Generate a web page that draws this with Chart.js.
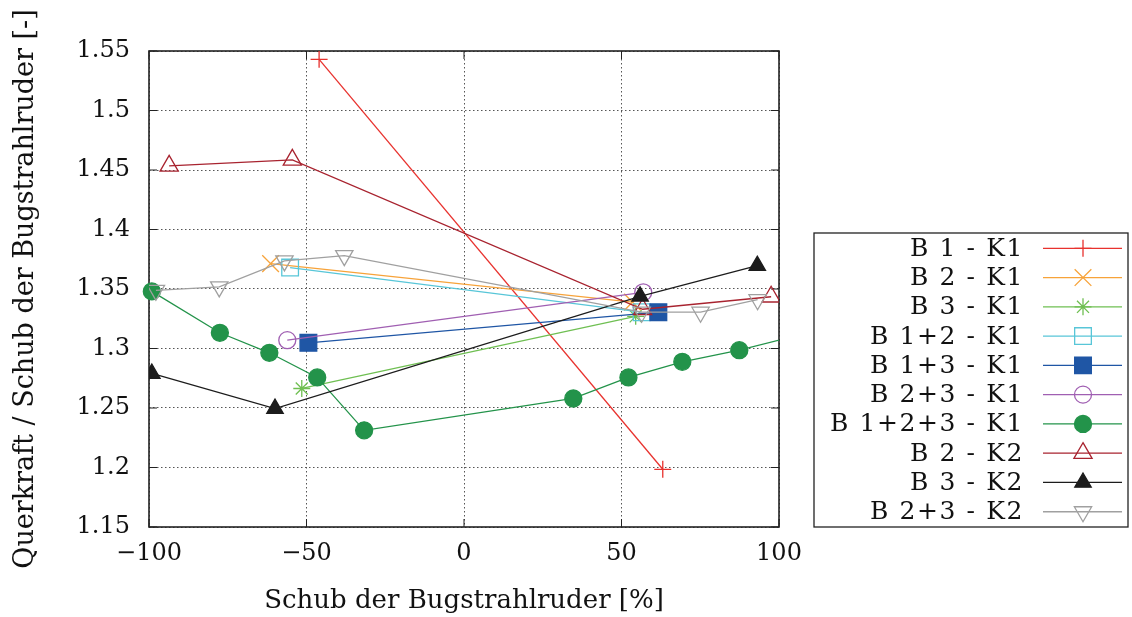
<!DOCTYPE html>
<html>
<head>
<meta charset="utf-8">
<script src="https://cdn.jsdelivr.net/npm/chart.js@4.4.0/dist/chart.umd.min.js"></script>
<style>
  html, body { margin: 0; padding: 0; background: #fff; }
  #wrap { width: 1132px; height: 617px; }
</style>
</head>
<body>
<div id="wrap"><canvas id="chart" width="1132" height="617"></canvas></div>
<script>
// Querkraft / Schub je Bugstrahlruder-Kombination
const xTicks = [-100, -50, 0, 50, 100];
const yTicks = [1.15, 1.2, 1.25, 1.3, 1.35, 1.4, 1.45, 1.5, 1.55];

const seriesNames = ['B 1 - K1', 'B 2 - K1', 'B 3 - K1', 'B 1+2 - K1', 'B 1+3 - K1',
  'B 2+3 - K1', 'B 1+2+3 - K1', 'B 2 - K2', 'B 3 - K2', 'B 2+3 - K2'];

const b1k1X = [-46.0, 63.1];
const b1k1Y = [1.543, 1.1985];
const b2k1X = [-61.4, 53.5];
const b2k1Y = [1.3713, 1.339];
const b3k1X = [-51.5, 54.5];
const b3k1Y = [1.2664, 1.327];
const b12k1X = [-55.2, 56.4];
const b12k1Y = [1.368, 1.3305];
const b13k1X = [-49.4, 61.7];
const b13k1Y = [1.3048, 1.3305];
const b23k1X = [-56.1, 56.9];
const b23k1Y = [1.307, 1.3472];
const b123k1X = [-99.1, -77.5, -61.8, -46.6, -31.7, 34.7, 52.2, 69.3, 87.4, 106];
const b123k1Y = [1.348, 1.3132, 1.2964, 1.2757, 1.2312, 1.258, 1.2757, 1.2888, 1.2986, 1.311];
const b2k2X = [-93.6, -54.5, 56.7, 97.5];
const b2k2Y = [1.4535, 1.4585, 1.333, 1.3435];
const b3k2X = [-99.1, -60.0, 55.9, 93.1];
const b3k2Y = [1.279, 1.2495, 1.3439, 1.3696];
const b23k2X = [-97.8, -77.7, -57.0, -38.0, 56.4, 75.1, 93.2];
const b23k2Y = [1.3489, 1.3518, 1.3736, 1.378, 1.3305, 1.3305, 1.341];

const seriesX = [b1k1X, b2k1X, b3k1X, b12k1X, b13k1X, b23k1X, b123k1X, b2k2X, b3k2X, b23k2X];
const seriesY = [b1k1Y, b2k1Y, b3k1Y, b12k1Y, b13k1Y, b23k1Y, b123k1Y, b2k2Y, b3k2Y, b23k2Y];

// line colour, marker style, marker radius, filled?, rotation
const styles = [
  { color: '#e8322e', point: 'cross', r: 8.5, fill: false },
  { color: '#f7a33a', point: 'crossRot', r: 11.8, fill: false },
  { color: '#6fbf52', point: 'star', r: 8.5, fill: false },
  { color: '#58c6d8', point: 'rect', r: 11.8, fill: false },
  { color: '#1f56a5', point: 'rect', r: 11.8, fill: true },
  { color: '#a05fb2', point: 'circle', r: 8.5, fill: false },
  { color: '#23934a', point: 'circle', r: 8.5, fill: true },
  { color: '#a8232f', point: 'triangle', r: 10.5, fill: false },
  { color: '#1c1c1c', point: 'triangle', r: 9.5, fill: true },
  { color: '#a0a0a0', point: 'triangle', r: 10, fill: false, rot: 180 }
];

const FONT = '"DejaVu Serif", serif';

const datasets = seriesNames.map((name, i) => {
  const st = styles[i];
  const ds = {
    label: name,
    data: seriesX[i].map((x, k) => ({ x: x, y: seriesY[i][k] })),
    borderColor: st.color,
    backgroundColor: st.color,
    borderWidth: 1.3,
    pointStyle: st.point,
    pointRadius: st.r,
    pointRotation: st.rot || 0,
    pointBorderColor: st.color,
    pointBackgroundColor: st.fill ? st.color : 'rgba(0,0,0,0)',
    pointBorderWidth: 1.3,
    tension: 0,
    order: seriesNames.length - i
  };
  // the last series runs on past x = 100, stop its line at the frame
  if (i === 6) ds.clip = { left: 12, top: 12, right: 0, bottom: 12 };
  return ds;
});

const frame = {
  id: 'frame',
  beforeDatasetsDraw(chart) {
    const { ctx, chartArea: a, scales } = chart;
    ctx.save();
    ctx.strokeStyle = '#222';
    ctx.lineWidth = 1;
    const tl = 8;
    ctx.beginPath();
    xTicks.forEach(v => {
      const px = scales.x.getPixelForValue(v);
      ctx.moveTo(px, a.bottom); ctx.lineTo(px, a.bottom - tl);
      ctx.moveTo(px, a.top); ctx.lineTo(px, a.top + tl);
    });
    yTicks.forEach(v => {
      const py = scales.y.getPixelForValue(v);
      ctx.moveTo(a.left, py); ctx.lineTo(a.left + tl, py);
      ctx.moveTo(a.right, py); ctx.lineTo(a.right - tl, py);
    });
    ctx.stroke();
    ctx.lineWidth = 1.6;
    ctx.strokeRect(a.left, a.top, a.right - a.left, a.bottom - a.top);
    ctx.restore();
  }
};

const keyBox = {
  id: 'keyBox',
  afterDraw(chart) {
    const ctx = chart.ctx;
    const box = { l: 814, t: 233, r: 1128, b: 527 };
    ctx.save();
    ctx.strokeStyle = '#222';
    ctx.lineWidth = 1.3;
    ctx.strokeRect(box.l, box.t, box.r - box.l, box.b - box.t);
    ctx.font = '25px ' + FONT;
    ctx.letterSpacing = '1.6px';
    ctx.textAlign = 'right';
    ctx.textBaseline = 'middle';
    chart.data.datasets.forEach((ds, i) => {
      const y = 248.3 + i * 29.27;
      ctx.fillStyle = '#111';
      ctx.fillText(ds.label, 1024, y + 1);
      ctx.strokeStyle = ds.borderColor;
      ctx.lineWidth = ds.borderWidth;
      ctx.beginPath();
      ctx.moveTo(1043, y); ctx.lineTo(1122, y);
      ctx.stroke();
      ctx.fillStyle = ds.pointBackgroundColor;
      ctx.lineWidth = ds.pointBorderWidth;
      Chart.helpers.drawPoint(ctx, {
        pointStyle: ds.pointStyle,
        radius: ds.pointRadius,
        rotation: ds.pointRotation,
        borderWidth: ds.pointBorderWidth
      }, 1083, y);
    });
    ctx.restore();
  }
};

const grid = {
  color: '#555',
  lineWidth: 1,
  drawTicks: false
};
const dotted = { display: false, dash: [1.5, 2.5] };

new Chart(document.getElementById('chart'), {
  type: 'line',
  data: { datasets: datasets },
  options: {
    responsive: false,
    animation: false,
    events: [],
    layout: { padding: { top: 51, right: 353, bottom: 0, left: 0 } },
    plugins: { legend: { display: false }, tooltip: { enabled: false } },
    scales: {
      x: {
        type: 'linear',
        min: -100,
        max: 100,
        afterFit: s => { s.height = 90; },
        afterBuildTicks: s => { s.ticks = xTicks.map(v => ({ value: v })); },
        grid: grid,
        border: dotted,
        ticks: {
          padding: 12,
          color: '#111',
          font: { family: FONT, size: 24 },
          callback: v => (v < 0 ? '\u2212' + Math.abs(v) : String(v))
        },
        title: {
          display: true,
          text: 'Schub der Bugstrahlruder [%]',
          color: '#111',
          font: { family: FONT, size: 26 },
          padding: { top: 0, bottom: 0 }
        }
      },
      y: {
        type: 'linear',
        min: 1.15,
        max: 1.55,
        afterFit: s => { s.width = 149; },
        afterBuildTicks: s => { s.ticks = yTicks.map(v => ({ value: v })); },
        grid: grid,
        border: dotted,
        ticks: {
          padding: 19,
          color: '#111',
          font: { family: FONT, size: 24 },
          callback: v => String(Math.round(v * 100) / 100)
        },
        title: {
          display: true,
          text: 'Querkraft / Schub der Bugstrahlruder [-]',
          color: '#111',
          font: { family: FONT, size: 27 },
          padding: { top: 10, bottom: 0 }
        }
      }
    }
  },
  plugins: [frame, keyBox]
});
</script>
</body>
</html>
